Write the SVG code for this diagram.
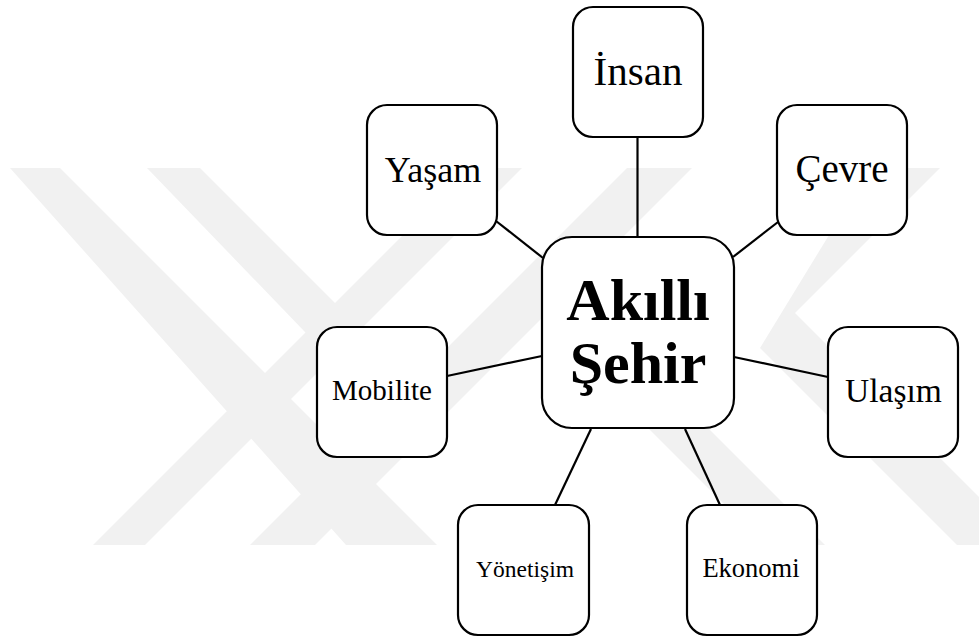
<svg xmlns="http://www.w3.org/2000/svg" width="979" height="637" viewBox="0 0 979 637">
  <style>
    .box { fill: #ffffff; stroke: #000000; stroke-width: 2.2; }
    .wire { stroke: #000000; stroke-width: 2.2; fill: none; stroke-linecap: butt; }
    .lbl { font-family: "Liberation Serif", "Times New Roman", serif; fill: #000000; text-anchor: middle; }
    .hub { font-family: "Liberation Serif", "Times New Roman", serif; font-weight: bold; font-size: 60px; fill: #000000; text-anchor: middle; }
    .mark { fill: #f1f1f1; }
  </style>

  <rect width="979" height="637" fill="#ffffff"/>

  <!-- faint background emblem -->
  <g id="emblem">
    <clipPath id="band-clip"><rect x="0" y="168" width="979" height="377"/></clipPath>
    <g clip-path="url(#band-clip)">
      <polygon class="mark" points="10,168 60,168 470,578 420,628"/>
      <polygon class="mark" points="147,168 200,168 360,328 330,358"/>
      <polygon class="mark" points="470,168 522,168 145,545 93,545"/>
      <polygon class="mark" points="627,168 692,168 315,545 250,545"/>
      <polygon class="mark" points="870,168 940,168 795,313 979,497 979,567 760,348"/>
      <polygon class="mark" points="640,420 700,420 825,545 765,545"/>
    </g>
  </g>

  <!-- connectors from the hub to each topic -->
  <g id="connectors">
    <line class="wire" x1="637.5" y1="137" x2="637.5" y2="237"/>
    <line class="wire" x1="496" y1="221" x2="543" y2="258"/>
    <line class="wire" x1="778" y1="222" x2="733" y2="257"/>
    <line class="wire" x1="447" y1="376" x2="542" y2="356"/>
    <line class="wire" x1="734" y1="357" x2="828" y2="377"/>
    <line class="wire" x1="591" y1="429" x2="555" y2="505"/>
    <line class="wire" x1="685" y1="429" x2="720" y2="505"/>
  </g>

  <g id="hub">
    <rect class="box" x="542" y="237" width="192" height="191" rx="30" ry="30"/>
    <text class="hub" x="638" y="320">Akıllı</text>
    <text class="hub" x="638" y="383">Şehir</text>
  </g>

  <g id="insan">
    <rect class="box" x="573" y="7" width="130" height="130" rx="20" ry="20"/>
    <text class="lbl" x="638" y="85" font-size="41">İnsan</text>
  </g>

  <g id="yasam">
    <rect class="box" x="367" y="105" width="130" height="130" rx="20" ry="20"/>
    <text class="lbl" x="433" y="182" font-size="36">Yaşam</text>
  </g>

  <g id="cevre">
    <rect class="box" x="777" y="105" width="130" height="130" rx="20" ry="20"/>
    <text class="lbl" x="842" y="182" font-size="39">Çevre</text>
  </g>

  <g id="mobilite">
    <rect class="box" x="317" y="327" width="130" height="130" rx="20" ry="20"/>
    <text class="lbl" x="382" y="400" font-size="29">Mobilite</text>
  </g>

  <g id="ulasim">
    <rect class="box" x="828" y="327" width="130" height="130" rx="20" ry="20"/>
    <text class="lbl" x="893.5" y="402" font-size="33.5">Ulaşım</text>
  </g>

  <g id="yonetisim">
    <rect class="box" x="458" y="505" width="131" height="130" rx="20" ry="20"/>
    <text class="lbl" x="525" y="577" font-size="23.5">Yönetişim</text>
  </g>

  <g id="ekonomi">
    <rect class="box" x="687" y="505" width="130" height="130" rx="20" ry="20"/>
    <text class="lbl" x="751" y="577" font-size="26.5">Ekonomi</text>
  </g>
</svg>
